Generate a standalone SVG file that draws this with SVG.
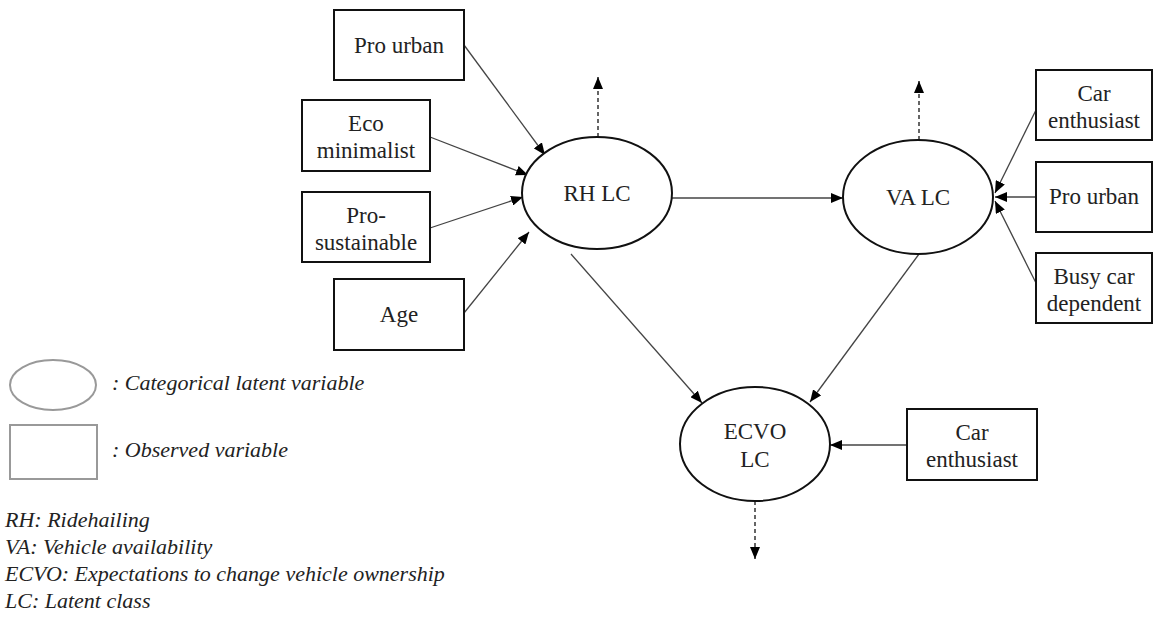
<svg xmlns="http://www.w3.org/2000/svg" width="1159" height="617" viewBox="0 0 1159 617">
  <style>
    .box { fill: #fff; stroke: #111; stroke-width: 2; }
    .lat { fill: #fff; stroke: #111; stroke-width: 2; }
    .lbl { font-family: 'Liberation Serif', 'Times New Roman', Times, 'DejaVu Serif', serif; font-size: 23px; fill: #222; text-anchor: middle; }
    .key { font-family: 'Liberation Serif', 'Times New Roman', Times, 'DejaVu Serif', serif; font-size: 22px; font-style: italic; fill: #222; }
    .edge { stroke: #444; stroke-width: 1.3; fill: none; marker-end: url(#head); }
    .dash { stroke: #333; stroke-width: 1.5; fill: none; stroke-dasharray: 4 3; marker-end: url(#head); }
    .legend { fill: #fff; stroke: #999; stroke-width: 2; }
  </style>
  <defs>
    <marker id="head" viewBox="0 0 12 10" refX="12" refY="5" markerWidth="12" markerHeight="10" markerUnits="userSpaceOnUse" orient="auto">
      <path d="M0,0 L12,5 L0,10 Z" fill="#000"/>
    </marker>
  </defs>

  <!-- connectors -->
  <g id="connectors">
    <line class="edge" x1="464" y1="45" x2="545" y2="155"/>
    <line class="edge" x1="430" y1="137" x2="528" y2="175"/>
    <line class="edge" x1="430" y1="228" x2="523" y2="197"/>
    <line class="edge" x1="464" y1="313" x2="529" y2="232"/>
    <line class="edge" x1="672" y1="198" x2="843" y2="198"/>
    <line class="edge" x1="1036" y1="110" x2="995" y2="193"/>
    <line class="edge" x1="1036" y1="197" x2="995" y2="197"/>
    <line class="edge" x1="1036" y1="283" x2="995" y2="201"/>
    <line class="edge" x1="571" y1="254" x2="702" y2="403"/>
    <line class="edge" x1="919" y1="254" x2="810" y2="402"/>
    <line class="edge" x1="907" y1="445" x2="830" y2="445"/>
    <line class="dash" x1="598" y1="137" x2="598" y2="77"/>
    <line class="dash" x1="919" y1="140" x2="919" y2="81"/>
    <line class="dash" x1="755" y1="501" x2="755" y2="559"/>
  </g>

  <!-- observed variables -->
  <g id="pro-urban-rh">
    <rect class="box" x="334" y="10" width="130" height="70"/>
    <text class="lbl" x="399" y="53">Pro urban</text>
  </g>
  <g id="eco-minimalist">
    <rect class="box" x="302" y="100" width="128" height="71"/>
    <text class="lbl" x="366" y="131">Eco</text>
    <text class="lbl" x="366" y="158">minimalist</text>
  </g>
  <g id="pro-sustainable">
    <rect class="box" x="302" y="192" width="128" height="70"/>
    <text class="lbl" x="366" y="223">Pro-</text>
    <text class="lbl" x="366" y="250">sustainable</text>
  </g>
  <g id="age">
    <rect class="box" x="334" y="279" width="130" height="71"/>
    <text class="lbl" x="399" y="322">Age</text>
  </g>
  <g id="car-enthusiast-va">
    <rect class="box" x="1036" y="70" width="116" height="70"/>
    <text class="lbl" x="1094" y="101">Car</text>
    <text class="lbl" x="1094" y="128">enthusiast</text>
  </g>
  <g id="pro-urban-va">
    <rect class="box" x="1036" y="162" width="116" height="70"/>
    <text class="lbl" x="1094" y="204">Pro urban</text>
  </g>
  <g id="busy-car-dependent">
    <rect class="box" x="1036" y="253" width="116" height="70"/>
    <text class="lbl" x="1094" y="284">Busy car</text>
    <text class="lbl" x="1094" y="311">dependent</text>
  </g>
  <g id="car-enthusiast-ecvo">
    <rect class="box" x="907" y="409" width="130" height="71"/>
    <text class="lbl" x="972" y="440">Car</text>
    <text class="lbl" x="972" y="467">enthusiast</text>
  </g>

  <!-- latent class variables -->
  <g id="rh-lc">
    <ellipse class="lat" cx="597" cy="193" rx="75" ry="56"/>
    <text class="lbl" x="597" y="201">RH LC</text>
  </g>
  <g id="va-lc">
    <ellipse class="lat" cx="918" cy="197" rx="75" ry="57"/>
    <text class="lbl" x="918" y="205">VA LC</text>
  </g>
  <g id="ecvo-lc">
    <ellipse class="lat" cx="755" cy="444" rx="75" ry="57"/>
    <text class="lbl" x="755" y="439">ECVO</text>
    <text class="lbl" x="755" y="467">LC</text>
  </g>

  <!-- legend -->
  <g id="legend">
    <ellipse class="legend" cx="53" cy="385" rx="43" ry="25"/>
    <text class="key" x="112" y="390">: Categorical latent variable</text>
    <rect class="legend" x="10" y="425" width="87" height="54"/>
    <text class="key" x="112" y="457">: Observed variable</text>
    <text class="key" x="5" y="527">RH: Ridehailing</text>
    <text class="key" x="5" y="554">VA: Vehicle availability</text>
    <text class="key" x="5" y="581">ECVO: Expectations to change vehicle ownership</text>
    <text class="key" x="5" y="608">LC: Latent class</text>
  </g>
</svg>
